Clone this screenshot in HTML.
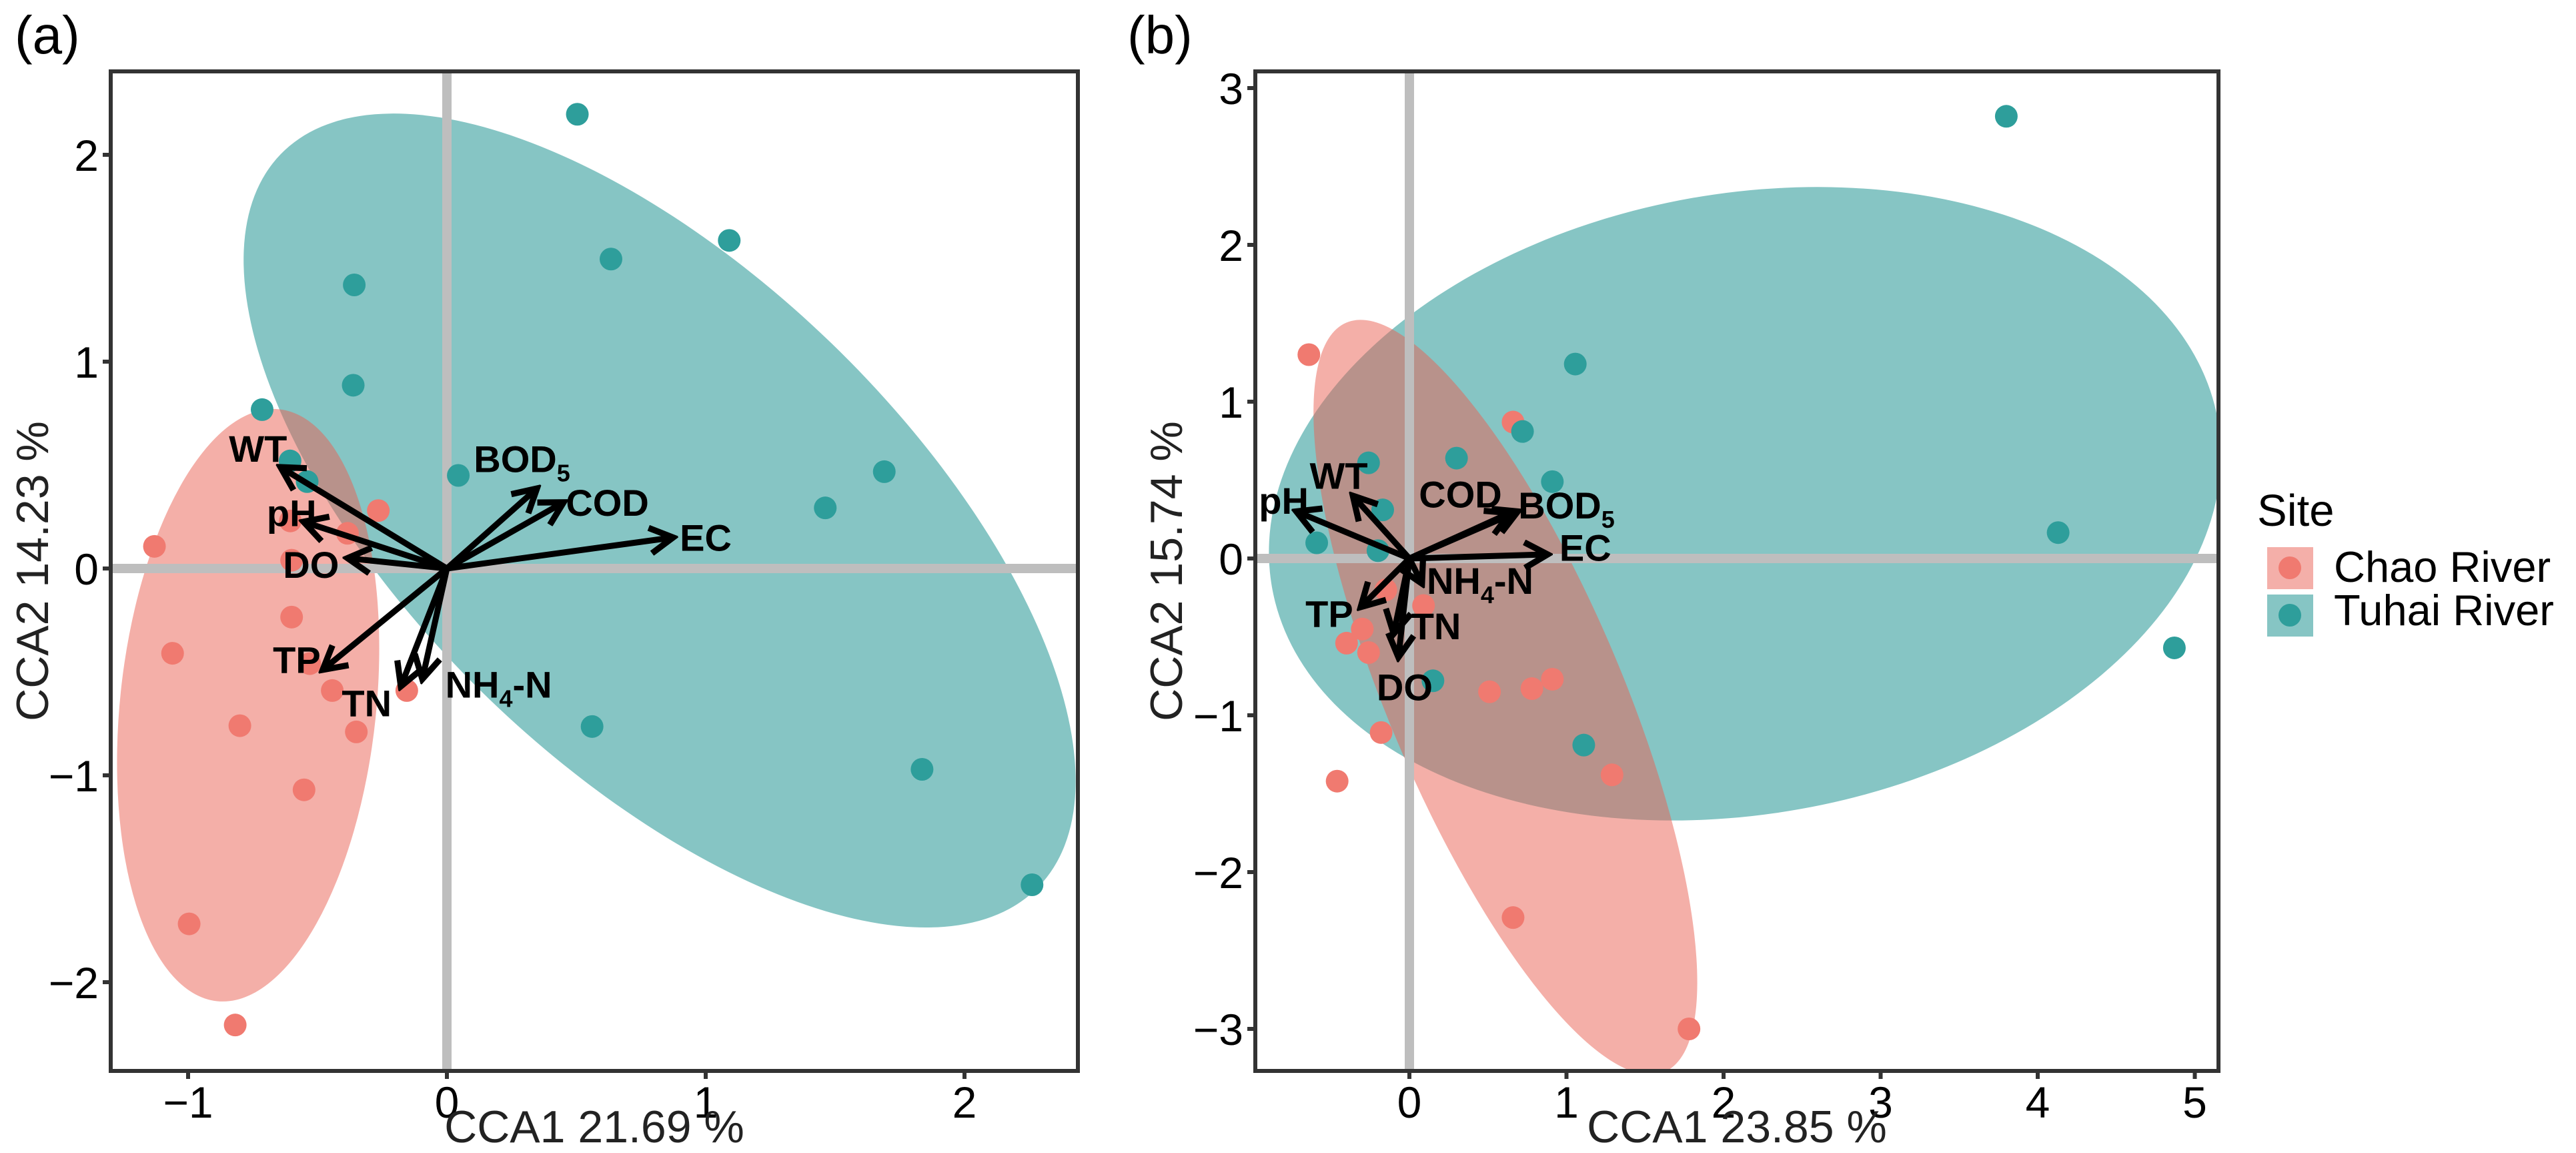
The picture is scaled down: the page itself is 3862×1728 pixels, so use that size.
<!DOCTYPE html>
<html><head><meta charset="utf-8"><style>
html,body{margin:0;padding:0;background:#fff;}
svg{display:block;font-family:"Liberation Sans",Arial,sans-serif;}
.tick{font-size:66px;fill:#000;}
.ttl{font-size:68px;fill:#222;}
.lab{font-size:56px;font-weight:bold;fill:#000;}
</style></head><body>
<svg id="chart" width="3862" height="1728" viewBox="0 0 3862 1728" xmlns="http://www.w3.org/2000/svg">
<defs>
<marker id="ah" viewBox="0 0 12 12" refX="10" refY="6" markerWidth="46" markerHeight="46" markerUnits="userSpaceOnUse" orient="auto">
<path d="M1,1 L10,6 L1,11" fill="none" stroke="#000" stroke-width="2.4"/>
</marker>
<clipPath id="clipA"><rect x="166" y="107" width="1450" height="1498"/></clipPath>
<clipPath id="clipB"><rect x="1882" y="107" width="1444" height="1498"/></clipPath>
</defs>
<g id="panelA"></g>
<g id="panelB"></g>
<g id="legend">
<text x="3384" y="788" style="font-size:67px">Site</text>
<rect x="3399" y="820" width="69" height="63" fill="#F4AFA9"/>
<circle cx="3433" cy="851" r="17" fill="#F07A70"/>
<text x="3499" y="872" style="font-size:65px">Chao River</text>
<rect x="3399" y="891" width="69" height="63" fill="#86C5C4"/>
<circle cx="3433" cy="922" r="17" fill="#2E9E9B"/>
<text x="3499" y="937" style="font-size:65px">Tuhai River</text>
</g>
</svg>
<script>
// ---------- Panel A data ----------
const aXTicks = [-1, 0, 1, 2];
const aYTicks = [-2, -1, 0, 1, 2];
const aChaoX = [-1.13, -0.265, -0.605, -0.384, -0.6, -0.6, -1.06, -0.53, -0.443, -0.155, -0.80, -0.35, -0.552, -0.996, -0.818];
const aChaoY = [0.107, 0.28, 0.23, 0.17, 0.04, -0.235, -0.41, -0.46, -0.59, -0.59, -0.76, -0.79, -1.07, -1.718, -2.207];
const aTuhaiX = [0.504, 1.091, 0.634, -0.358, -0.362, -0.714, -0.606, -0.54, 0.044, 1.69, 1.462, 0.561, 1.836, 2.261];
const aTuhaiY = [2.196, 1.586, 1.496, 1.371, 0.886, 0.768, 0.52, 0.42, 0.45, 0.468, 0.293, -0.764, -0.971, -1.529];
const aVarNames = ["WT", "pH", "DO", "TP", "TN", "NH4-N", "BOD5", "COD", "EC"];
const aVarX = [-0.643, -0.554, -0.384, -0.48, -0.178, -0.095, 0.348, 0.451, 0.874];
const aVarY = [0.49, 0.226, 0.05, -0.49, -0.57, -0.535, 0.387, 0.32, 0.15];
const aLabX = [-0.73, -0.60, -0.525, -0.58, -0.31, 0.20, 0.29, 0.62, 1.0];
const aLabY = [0.58, 0.27, 0.02, -0.44, -0.65, -0.56, 0.53, 0.32, 0.15];
const aEllCX = [-0.768, 0.822];
const aEllCY = [-0.661, 0.232];
// ---------- Panel B data ----------
const bXTicks = [0, 1, 2, 3, 4, 5];
const bYTicks = [-3, -2, -1, 0, 1, 2, 3];
const bChaoX = [-0.64, 0.66, 0.09, -0.30, -0.40, -0.26, 0.91, 0.78, 0.51, -0.18, -0.46, 1.29, 0.66, 1.78, -0.15];
const bChaoY = [1.30, 0.87, -0.30, -0.45, -0.54, -0.60, -0.77, -0.83, -0.85, -1.11, -1.42, -1.38, -2.29, -3.0, -0.2];
const bTuhaiX = [3.80, 1.056, 0.72, 0.30, 0.91, -0.17, -0.26, -0.59, 4.13, 4.87, 0.15, 1.11, -0.2];
const bTuhaiY = [2.82, 1.24, 0.81, 0.64, 0.49, 0.31, 0.61, 0.10, 0.165, -0.57, -0.78, -1.19, 0.05];
const bVarNames = ["pH", "WT", "COD", "BOD5", "EC", "NH4-N", "TP", "TN", "DO"];
const bVarX = [-0.72, -0.36, 0.64, 0.69, 0.88, 0.08, -0.31, -0.10, -0.07];
const bVarY = [0.30, 0.40, 0.29, 0.30, 0.026, -0.16, -0.31, -0.48, -0.63];
const bLabX = [-0.80, -0.45, 0.325, 1.0, 1.12, 0.45, -0.51, 0.17, -0.03];
const bLabY = [0.37, 0.53, 0.41, 0.34, 0.07, -0.14, -0.35, -0.43, -0.82];
const bEllCX = [0.611, 2.136];
const bEllCY = [-0.885, 0.349];

const NS = "http://www.w3.org/2000/svg";
function mk(tag, attrs, parent) {
  const e = document.createElementNS(NS, tag);
  for (const k in attrs) e.setAttribute(k, attrs[k]);
  parent.appendChild(e);
  return e;
}
const RED = "#F07A70", TEAL = "#2E9E9B";

function drawPanel(g, cfg) {
  const sx = v => cfg.x0 + v * cfg.ux;
  const sy = v => cfg.y0 - v * cfg.uy;
  const clip = mk("g", {"clip-path": "url(#" + cfg.clip + ")"}, g);
  
  
  // ellipses
  for (let i = 0; i < cfg.ellOrder.length; i++) {
    const k = cfg.ellOrder[i];
    const e = cfg.ell[k];
    const cx = sx(cfg.ellCX[k]), cy = sy(cfg.ellCY[k]);
    const el = mk("ellipse", {cx: cx, cy: cy, rx: e.rx, ry: e.ry, transform: "rotate(" + e.rot + " " + cx + " " + cy + ")", fill: e.fill, "fill-opacity": 0.5}, clip);
    
    
  }
  // zero lines
  const hl = mk("line", {x1: cfg.L, x2: cfg.R, y1: sy(0), y2: sy(0), stroke: "#bebebe", "stroke-width": 14}, clip);
  
  
  const vl = mk("line", {x1: sx(0), x2: sx(0), y1: cfg.T, y2: cfg.B, stroke: "#bebebe", "stroke-width": 14}, clip);
  
  
  // points
  cfg.chaoX.forEach((v, i) => {
    const c = mk("circle", {cx: sx(v), cy: sy(cfg.chaoY[i]), r: 17, fill: RED}, clip);
    
    
  });
  cfg.tuhaiX.forEach((v, i) => {
    const c = mk("circle", {cx: sx(v), cy: sy(cfg.tuhaiY[i]), r: 17, fill: TEAL}, clip);
    
    
  });
  // arrows
  cfg.varX.forEach((v, i) => {
    const a = mk("line", {x1: sx(0), y1: sy(0), x2: sx(v), y2: sy(cfg.varY[i]), stroke: "#000", "stroke-width": 9, "marker-end": "url(#ah)"}, g);
    
    
  });
  cfg.names.forEach((n, i) => {
    const t = mk("text", {x: sx(cfg.labX[i]), y: sy(cfg.labY[i]) + 20, "text-anchor": "middle", class: "lab"}, g);
    
    
    if (n === "NH4-N") { t.innerHTML = 'NH<tspan dy="14" style="font-size:36px">4</tspan><tspan dy="-14">-N</tspan>'; }
    else if (n === "BOD5") { t.innerHTML = 'BOD<tspan dy="14" style="font-size:36px">5</tspan>'; }
    else t.textContent = n;
  });
  // border
  const bd = mk("rect", {x: cfg.L, y: cfg.T, width: cfg.R - cfg.L, height: cfg.B - cfg.T, fill: "none", stroke: "#333", "stroke-width": 6}, g);
  
  
  // ticks
  cfg.xTicks.forEach(v => {
    const tl = mk("line", {x1: sx(v), x2: sx(v), y1: cfg.B, y2: cfg.B + 12, stroke: "#333", "stroke-width": 6}, g);
    
    
    const tt = mk("text", {x: sx(v), y: cfg.B + 70, "text-anchor": "middle", class: "tick"}, g);
    tt.textContent = v < 0 ? "\u2212" + Math.abs(v) : String(v);
    
    
  });
  cfg.yTicks.forEach(v => {
    const tl = mk("line", {x1: cfg.L - 12, x2: cfg.L, y1: sy(v), y2: sy(v), stroke: "#333", "stroke-width": 6}, g);
    
    
    const tt = mk("text", {x: cfg.L - 18, y: sy(v) + 24, "text-anchor": "end", class: "tick"}, g);
    tt.textContent = v < 0 ? "\u2212" + Math.abs(v) : String(v);
    
    
  });
  const xt = mk("text", {x: (cfg.L + cfg.R) / 2, y: 1712, "text-anchor": "middle", class: "ttl"}, g);
  xt.textContent = cfg.xTitle;
  
  
  const yx = cfg.yTitleX, yy = (cfg.T + cfg.B) / 2;
  const yt = mk("text", {x: yx, y: yy, "text-anchor": "middle", class: "ttl", transform: "rotate(-90 " + yx + " " + yy + ")"}, g);
  yt.textContent = cfg.yTitle;
  
  
  const pl = mk("text", {x: cfg.tagX, y: 80, style: "font-size:80px"}, g);
  pl.textContent = cfg.tag;
  
  
}

drawPanel(document.getElementById("panelA"), {
  L: 166, R: 1616, T: 107, B: 1605, x0: 670, ux: 388, y0: 852, uy: 310, clip: "clipA",
  ell: [{rx: 192, ry: 446, rot: 6, fill: "#E95F52"}, {rx: 790, ry: 370, rot: 44, fill: "#0D8B89"}],
  ellOrder: [1, 0], ellCX: aEllCX, ellCY: aEllCY,
  chaoX: aChaoX, chaoY: aChaoY, tuhaiX: aTuhaiX, tuhaiY: aTuhaiY,
  names: aVarNames, varX: aVarX, varY: aVarY, labX: aLabX, labY: aLabY,
  xTicks: aXTicks, yTicks: aYTicks, xTitle: "CCA1 21.69 %", yTitle: "CCA2 14.23 %", yTitleX: 72, tag: "(a)", tagX: 22
});
drawPanel(document.getElementById("panelB"), {
  L: 1882, R: 3326, T: 107, B: 1605, x0: 2113, ux: 235.5, y0: 837, uy: 235, clip: "clipB",
  ell: [{rx: 175, ry: 610, rot: -23, fill: "#E95F52"}, {rx: 720, ry: 465, rot: -10, fill: "#0D8B89"}],
  ellOrder: [1, 0], ellCX: bEllCX, ellCY: bEllCY,
  chaoX: bChaoX, chaoY: bChaoY, tuhaiX: bTuhaiX, tuhaiY: bTuhaiY,
  names: bVarNames, varX: bVarX, varY: bVarY, labX: bLabX, labY: bLabY,
  xTicks: bXTicks, yTicks: bYTicks, xTitle: "CCA1 23.85 %", yTitle: "CCA2 15.74 %", yTitleX: 1772, tag: "(b)", tagX: 1690
});
</script>
</body></html>
